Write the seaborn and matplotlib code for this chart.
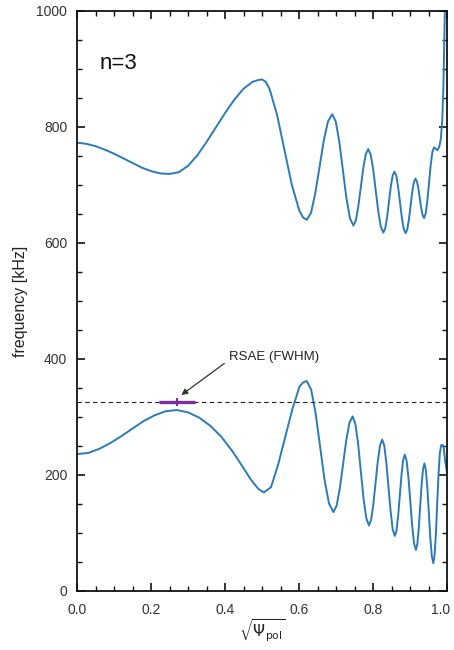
import numpy as np
import pandas as pd
import matplotlib
matplotlib.use("Agg")
import matplotlib.pyplot as plt
import matplotlib.transforms as mtransforms
import seaborn as sns

# ---- data ----
upper_x = [0.000, 0.025, 0.050, 0.075, 0.100, 0.125, 0.150, 0.175, 0.200, 0.225, 0.250,
           0.275, 0.300, 0.325, 0.350, 0.375, 0.400, 0.425, 0.450, 0.475, 0.490, 0.500,
           0.510, 0.5202, 0.5403, 0.5605, 0.5807, 0.6008, 0.611, 0.621,
           0.6325, 0.644, 0.6555, 0.667, 0.6785, 0.690,
           0.6995, 0.709, 0.7185, 0.728, 0.7375, 0.747,
           0.7537, 0.7603, 0.767, 0.7737, 0.7803, 0.787,
           0.7938, 0.8007, 0.8075, 0.8143, 0.8212, 0.828,
           0.833, 0.838, 0.843, 0.848, 0.853, 0.858,
           0.863, 0.868, 0.873, 0.878, 0.883, 0.888,
           0.8925, 0.897, 0.9015, 0.906, 0.9105, 0.915,
           0.9188, 0.9227, 0.9265, 0.9303, 0.9342, 0.938,
           0.9425, 0.947, 0.9515, 0.956, 0.9605, 0.965,
           0.970, 0.974, 0.979, 0.983, 0.987, 0.990, 0.992, 0.994, 0.996]
upper_f = [773, 771, 767, 761, 754, 746, 738, 730, 724, 720, 719,
           722, 733, 751, 774, 799, 824, 847, 866, 878, 881, 882,
           878, 866, 822, 761, 700, 656, 644, 640,
           652, 686, 731, 777, 810, 822,
           809, 774, 726, 678, 643, 630,
           639, 663, 696, 729, 753, 762,
           752, 726, 690, 654, 628, 618,
           625, 644, 670, 697, 716, 723,
           716, 696, 670, 644, 624, 617,
           623, 640, 664, 688, 705, 711,
           706, 694, 677, 660, 648, 643,
           651, 673, 704, 735, 757, 765,
           762, 760, 766, 778, 810, 862, 925, 995, 1060]

lower_x = [0.000, 0.030, 0.060, 0.090, 0.120, 0.150, 0.180, 0.210, 0.240, 0.270,
           0.300, 0.330, 0.360, 0.390, 0.420, 0.450, 0.470, 0.490, 0.505,
           0.5243, 0.5437, 0.563, 0.5823, 0.6017, 0.612, 0.621,
           0.633, 0.645, 0.657, 0.669, 0.681, 0.693,
           0.7017, 0.7103, 0.719, 0.7277, 0.7363, 0.745,
           0.7523, 0.7597, 0.767, 0.7743, 0.7817, 0.789,
           0.795, 0.801, 0.807, 0.813, 0.819, 0.825,
           0.8307, 0.8363, 0.842, 0.8477, 0.8533, 0.859,
           0.8635, 0.868, 0.8725, 0.877, 0.8815, 0.886,
           0.891, 0.896, 0.901, 0.906, 0.911, 0.916,
           0.9198, 0.9237, 0.9275, 0.9313, 0.9352, 0.939,
           0.943, 0.947, 0.951, 0.955, 0.959, 0.963,
           0.9665, 0.970, 0.9735, 0.977, 0.9805, 0.984,
           0.988, 0.991, 0.995, 1.000]
lower_f = [236, 238, 245, 255, 267, 280, 293, 303, 310, 312,
           308, 299, 285, 266, 241, 212, 192, 176, 170,
           179, 218, 266, 314, 353, 360, 362,
           347, 306, 249, 192, 151, 136,
           147, 177, 218, 260, 290, 301,
           288, 254, 207, 160, 126, 113,
           123, 150, 187, 224, 251, 261,
           250, 219, 178, 137, 106, 95,
           104, 130, 165, 200, 226, 235,
           224, 194, 153, 112, 82, 71,
           81, 108, 146, 183, 210, 220,
           208, 177, 134, 91, 60, 48,
           62, 99, 150, 200, 237, 251,
           252, 248, 224, 204]

rsae_freq = 326          # dashed line / RSAE frequency [kHz]
rsae_center = 0.27       # RSAE radial position
rsae_fwhm = [0.221, 0.320]
mode_label = "n=3"
annot_text = "RSAE (FWHM)"

x_ticks = [0.0, 0.2, 0.4, 0.6, 0.8, 1.0]
y_ticks = [0, 200, 400, 600, 800, 1000]

# ---- plotting ----
sns.set_theme(style="ticks")
plt.rcParams["font.family"] = ["Liberation Sans", "DejaVu Sans"]
plt.rcParams["mathtext.fontset"] = "dejavusans"

fig = plt.figure(figsize=(4.54, 6.5), dpi=100)
ax = fig.add_axes([77 / 454, 59 / 650, 370 / 454, 580 / 650])

blue = "#2b7bba"
df_up = pd.DataFrame({"x": upper_x, "f": upper_f})
df_lo = pd.DataFrame({"x": lower_x, "f": lower_f})
sns.lineplot(data=df_up, x="x", y="f", ax=ax, color=blue, linewidth=1.4,
             estimator=None, sort=False)
sns.lineplot(data=df_lo, x="x", y="f", ax=ax, color=blue, linewidth=1.4,
             estimator=None, sort=False)

ax.axhline(rsae_freq, color="#222222", linewidth=0.8, linestyle=(0, (4, 3)))
purple = "#7a2f9e"
ax.hlines(rsae_freq, rsae_fwhm[0], rsae_fwhm[1], color=purple, linewidth=2.4, zorder=5)
ax.vlines(rsae_center, rsae_freq - 7, rsae_freq + 7, color=purple, linewidth=1.5, zorder=5)

ax.annotate(annot_text, xy=(rsae_center + 0.012, rsae_freq + 12),
            xytext=(0.41, 404), fontsize=9.5, color="#222222", va="center", ha="left",
            arrowprops=dict(arrowstyle="-|>", color="#333333", lw=0.9,
                            mutation_scale=9, shrinkA=1, shrinkB=0,
                            relpos=(0.0, 0.2)))

ax.text(0.062, 910, mode_label, fontsize=16, color="#111111", va="center", ha="left")

ax.set_xlim(0, 1.0)
ax.set_ylim(0, 1000)
ax.set_xticks(x_ticks)
ax.set_xticklabels([f"{v:.1f}" for v in x_ticks])
ax.set_yticks(y_ticks)
ax.set_xticks(np.arange(0, 1.0001, 0.05), minor=True)
ax.set_yticks(np.arange(0, 1001, 50), minor=True)

ax.tick_params(which="both", direction="in", top=True, right=True, colors="#111111",
               labelcolor="#333333", labelsize=10)
ax.tick_params(which="major", length=6, width=1.2)
ax.tick_params(axis="x", which="major", pad=9)
ax.tick_params(axis="y", which="major", pad=7)
ax.tick_params(which="minor", length=3.5, width=1.0)
for s in ax.spines.values():
    s.set_linewidth(1.3)
    s.set_color("#111111")

# keep the last x tick label inside the figure
last_lbl = ax.get_xticklabels()[-1]
last_lbl.set_transform(last_lbl.get_transform() +
                       mtransforms.ScaledTranslation(-6 / 100, 0, fig.dpi_scale_trans))

ax.set_xlabel(r"$\sqrt{\Psi_{\rm pol}}$", fontsize=11, color="#222222", labelpad=0)
ax.set_ylabel("frequency [kHz]", fontsize=11.5, color="#222222", labelpad=6)

fig.savefig("out.png", dpi=100)
